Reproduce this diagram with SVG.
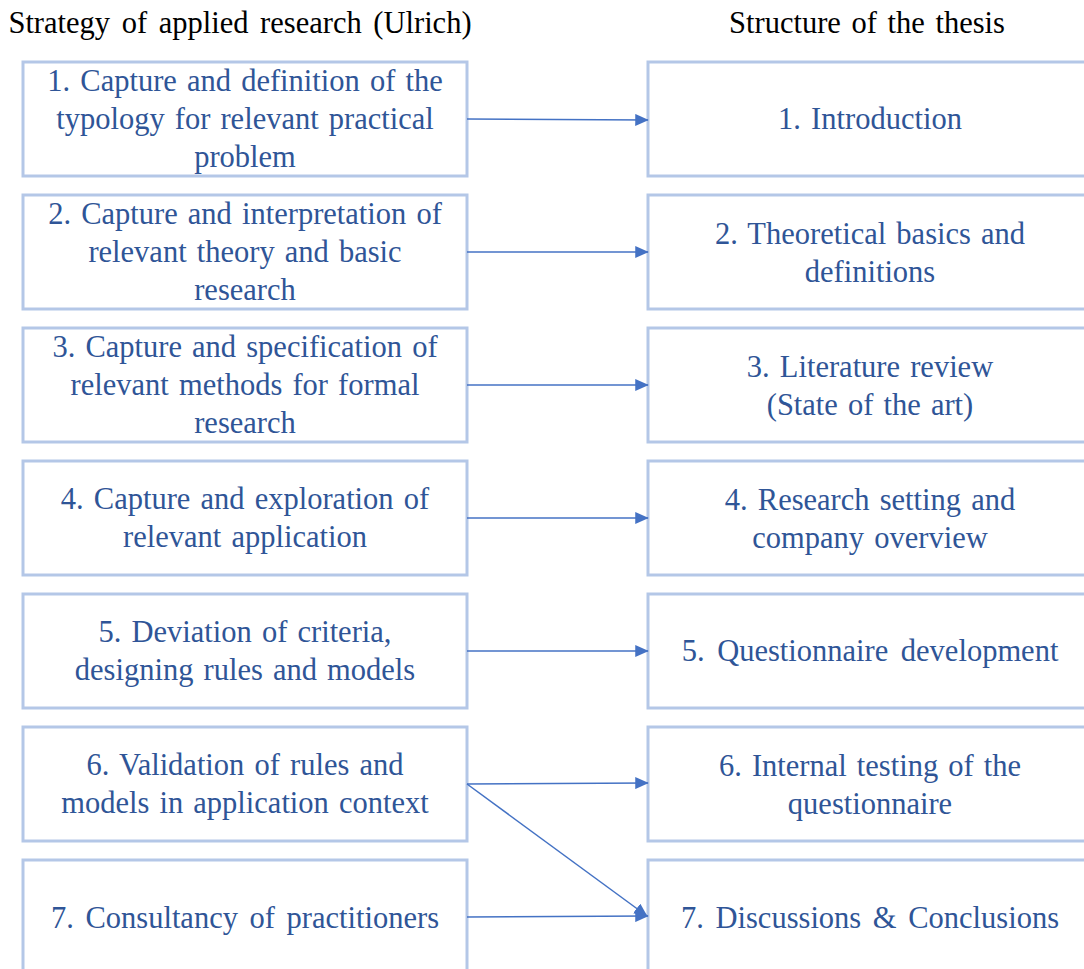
<svg xmlns="http://www.w3.org/2000/svg" width="1084" height="969" viewBox="0 0 1084 969">
<style>
.title{font-size:30.5px;fill:#000;text-anchor:middle;word-spacing:4px}
.box{fill:#fff;stroke:#B4C7E7;stroke-width:3}
.t{font-size:30.5px;fill:#2F5597;text-anchor:middle;word-spacing:2.5px}
.c{stroke:#4472C4;stroke-width:1.5;fill:none;marker-end:url(#ah)}
</style>
<defs>
<marker id="ah" markerWidth="9" markerHeight="8" refX="8.5" refY="4" orient="auto" markerUnits="strokeWidth">
<path d="M0,0 L9,4 L0,8 z" fill="#4472C4"/>
</marker>
</defs>
<rect width="1084" height="969" fill="#fff"/>
<g font-family="Liberation Serif, Times New Roman, DejaVu Serif, serif">
<text class="title" x="240" y="33">Strategy of applied research (Ulrich)</text>
<text class="title" x="867" y="33" style="word-spacing:3px">Structure of the thesis</text>

<g id="L1"><rect class="box" x="23" y="62" width="444" height="114"/>
<text class="t" x="245" y="91">1. Capture and definition of the</text>
<text class="t" x="245" y="129">typology for relevant practical</text>
<text class="t" x="245" y="167">problem</text></g>
<g id="L2"><rect class="box" x="23" y="195" width="444" height="114"/>
<text class="t" x="245" y="224">2. Capture and interpretation of</text>
<text class="t" x="245" y="262">relevant theory and basic</text>
<text class="t" x="245" y="300">research</text></g>
<g id="L3"><rect class="box" x="23" y="328" width="444" height="114"/>
<text class="t" x="245" y="357">3. Capture and specification of</text>
<text class="t" x="245" y="395">relevant methods for formal</text>
<text class="t" x="245" y="433">research</text></g>
<g id="L4"><rect class="box" x="23" y="461" width="444" height="114"/>
<text class="t" x="245" y="509">4. Capture and exploration of</text>
<text class="t" x="245" y="547">relevant application</text></g>
<g id="L5"><rect class="box" x="23" y="594" width="444" height="114"/>
<text class="t" x="245" y="642">5. Deviation of criteria,</text>
<text class="t" x="245" y="680">designing rules and models</text></g>
<g id="L6"><rect class="box" x="23" y="727" width="444" height="114"/>
<text class="t" x="245" y="775">6. Validation of rules and</text>
<text class="t" x="245" y="813">models in application context</text></g>
<g id="L7"><rect class="box" x="23" y="860" width="444" height="130"/>
<text class="t" x="245" y="928" style="word-spacing:4px">7. Consultancy of practitioners</text></g>

<g id="R1"><rect class="box" x="648" y="62" width="446" height="114"/>
<text class="t" x="870" y="129">1. Introduction</text></g>
<g id="R2"><rect class="box" x="648" y="195" width="446" height="114"/>
<text class="t" x="870" y="244">2. Theoretical basics and</text>
<text class="t" x="870" y="282">definitions</text></g>
<g id="R3"><rect class="box" x="648" y="328" width="446" height="114"/>
<text class="t" x="870" y="377">3. Literature review</text>
<text class="t" x="870" y="415">(State of the art)</text></g>
<g id="R4"><rect class="box" x="648" y="461" width="446" height="114"/>
<text class="t" x="870" y="510">4. Research setting and</text>
<text class="t" x="870" y="548">company overview</text></g>
<g id="R5"><rect class="box" x="648" y="594" width="446" height="114"/>
<text class="t" x="870" y="661" style="word-spacing:5px">5. Questionnaire development</text></g>
<g id="R6"><rect class="box" x="648" y="727" width="446" height="114"/>
<text class="t" x="870" y="776">6. Internal testing of the</text>
<text class="t" x="870" y="814">questionnaire</text></g>
<g id="R7"><rect class="box" x="648" y="860" width="446" height="130"/>
<text class="t" x="870" y="928" style="word-spacing:4px">7. Discussions &amp; Conclusions</text></g>
</g>
<g id="connectors">
<line class="c" x1="467" y1="119" x2="648" y2="120"/>
<line class="c" x1="467" y1="252" x2="648" y2="252"/>
<line class="c" x1="467" y1="385" x2="648" y2="385"/>
<line class="c" x1="467" y1="518" x2="648" y2="518"/>
<line class="c" x1="467" y1="651" x2="648" y2="651"/>
<line class="c" x1="467" y1="784" x2="648" y2="783"/>
<line class="c" x1="467" y1="784" x2="647" y2="916"/>
<line class="c" x1="467" y1="917" x2="648" y2="916"/>
</g>
</svg>
